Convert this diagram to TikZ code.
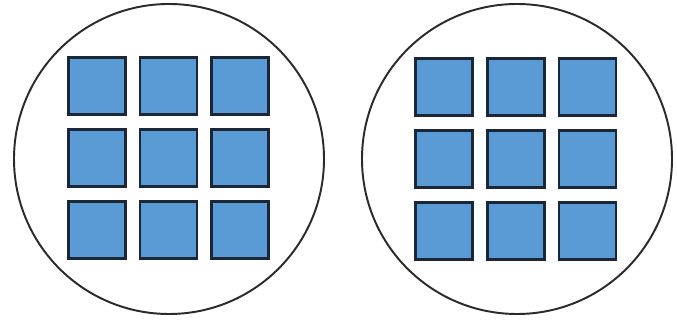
\documentclass[tikz,border=0pt]{standalone}
\usepackage{xcolor}
\usepackage{tikz}
\usetikzlibrary{positioning}
\definecolor{tileblue}{HTML}{5A9BD5}
\definecolor{tileedge}{HTML}{1B2636}
\definecolor{ringgray}{HTML}{2A2A2A}

\begin{document}
\begin{tikzpicture}[
  node distance=0.24cm and 0.24cm,
  ring/.style={draw=ringgray, circle, line width=1.1pt, minimum size=6.2cm, inner sep=0pt},
  tile/.style={draw=tileedge, fill=tileblue, line width=1.7pt, minimum size=1.14cm, inner sep=0pt}
]
\useasboundingbox (0,0) rectangle (13.54,-6.48);

\node[ring] (lring) at (3.38,-3.18) {};
\node[ring] (rring) at (10.34,-3.18) {};

% left group
\node[tile] (l22) at (3.37,-3.16) {};
\node[tile, above=of l22] (l12) {};
\node[tile, below=of l22] (l32) {};
\node[tile, left=of l22] (l21) {};
\node[tile, right=of l22] (l23) {};
\node[tile, above left=of l22] (l11) {};
\node[tile, above right=of l22] (l13) {};
\node[tile, below left=of l22] (l31) {};
\node[tile, below right=of l22] (l33) {};

% right group
\node[tile] (r22) at (10.31,-3.18) {};
\node[tile, above=of r22] (r12) {};
\node[tile, below=of r22] (r32) {};
\node[tile, left=of r22] (r21) {};
\node[tile, right=of r22] (r23) {};
\node[tile, above left=of r22] (r11) {};
\node[tile, above right=of r22] (r13) {};
\node[tile, below left=of r22] (r31) {};
\node[tile, below right=of r22] (r33) {};

\end{tikzpicture}
\end{document}
